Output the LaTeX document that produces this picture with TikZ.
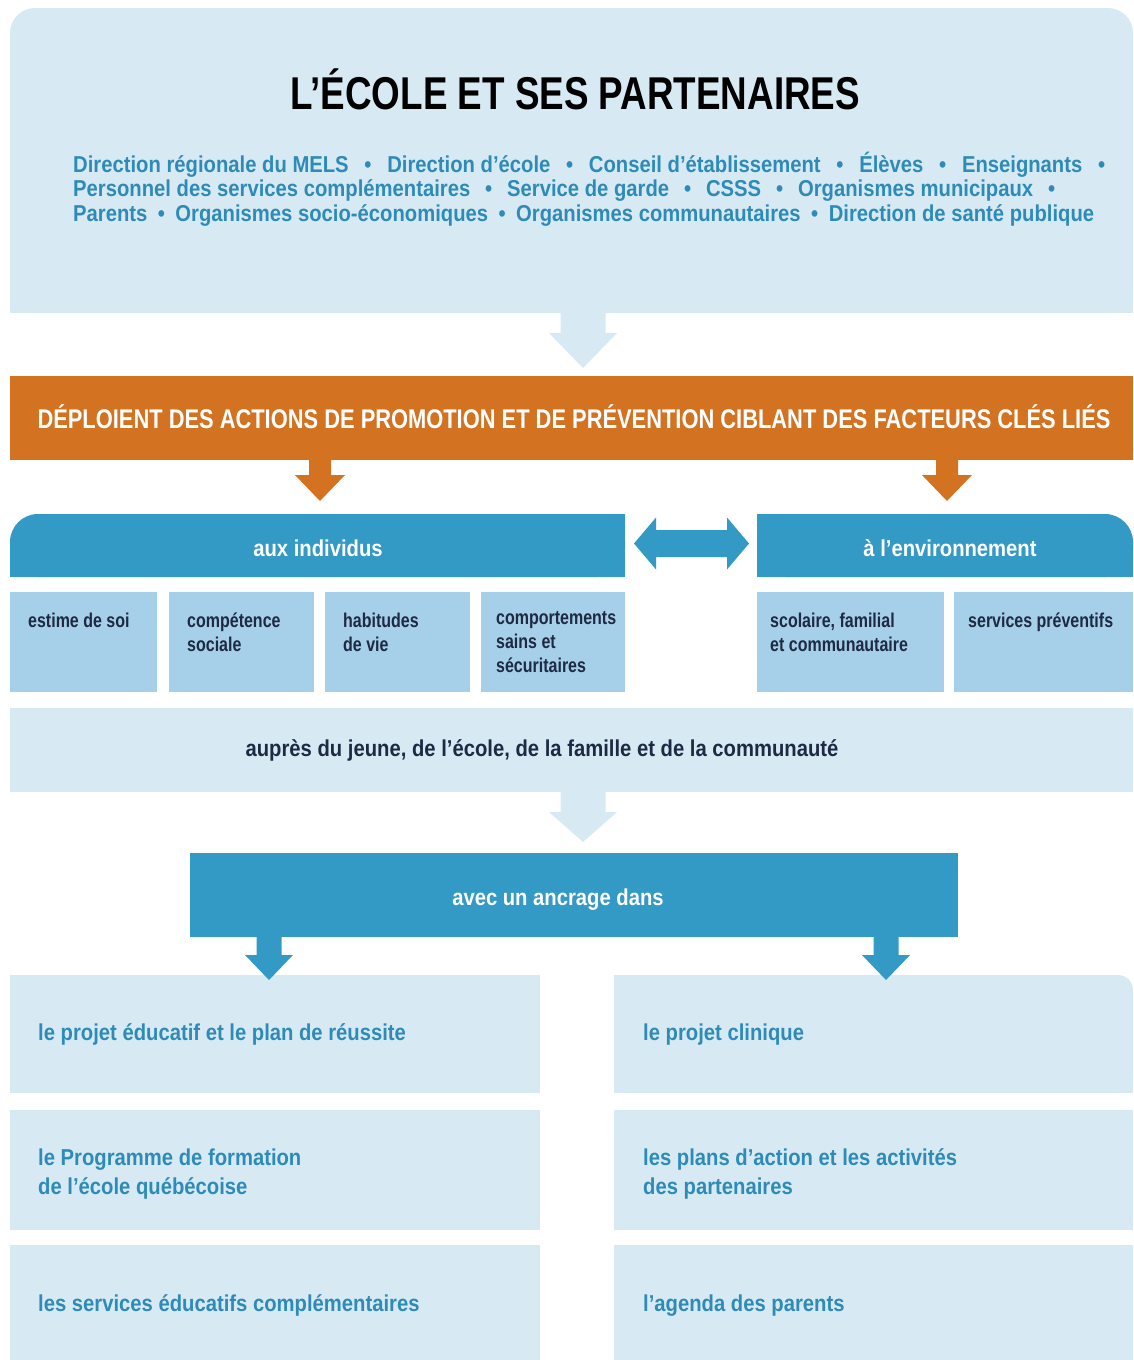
\documentclass[tikz,border=0pt]{standalone}
\usepackage{fontspec}
\setmainfont{Liberation Sans}
\newfontfamily\cnd[FakeStretch=0.88]{Liberation Sans}
\newfontfamily\cndn[FakeStretch=0.8]{Liberation Sans}
\newfontfamily\cndb[FakeStretch=0.81]{Liberation Sans}
\usetikzlibrary{calc}

\definecolor{pale}{HTML}{D7EAF4}
\definecolor{tile}{HTML}{A6D0E9}
\definecolor{hdrblue}{HTML}{3399C5}
\definecolor{orng}{HTML}{D37220}
\definecolor{navy}{HTML}{1E2A44}
\definecolor{txtblue}{HTML}{2E8BB7}

% vertical block arrow: colour, start point, target point, shaft half width,
% head half width, head length, gap between tip and target
\newcommand\vblockarrow[7]{%
  \fill[#1] let \p1=(#2), \p2=(#3) in
    (\x1-#4pt,\y1) -- (\x1-#4pt,\y2+#7pt+#6pt) -- (\x1-#5pt,\y2+#7pt+#6pt)
    -- (\x1,\y2+#7pt) -- (\x1+#5pt,\y2+#7pt+#6pt) -- (\x1+#4pt,\y2+#7pt+#6pt)
    -- (\x1+#4pt,\y1) -- cycle;}

\begin{document}
\begin{tikzpicture}[x=1pt,y=-1pt,
  box/.style={anchor=north west, inner sep=0pt, outer sep=0pt, draw=none},
  palebox/.style={box, fill=pale},
  tilebox/.style={box, fill=tile, minimum height=100pt},
  hdrbox/.style={box, fill=hdrblue},
  titletxt/.style={text=black, inner sep=0pt, font=\cndn\bfseries\fontsize{46}{50}\selectfont},
  partnertxt/.style={anchor=west, inner sep=0pt, text=txtblue, font=\cnd\bfseries\fontsize{23}{26}\selectfont},
  bandtxt/.style={text=white, inner sep=0pt, font=\cndb\bfseries\fontsize{27}{30}\selectfont},
  headtxt/.style={text=white, inner sep=0pt, font=\cnd\bfseries\fontsize{23}{26}\selectfont},
  tiletxt/.style={anchor=north west, inner sep=0pt, align=left, text=navy, font=\cndn\bfseries\fontsize{20}{24}\selectfont},
  navytxt/.style={text=navy, inner sep=0pt, font=\cnd\bfseries\fontsize{23}{26}\selectfont},
  itemtxt/.style={anchor=west, inner sep=0pt, align=left, text=txtblue, font=\cnd\bfseries\fontsize{23}{29}\selectfont}]

\useasboundingbox (0,0) rectangle (1133,1360);
\fill[white] (0,0) rectangle (1133,1360);

% ---- school and partners
\node[palebox, rounded corners=25pt, minimum width=1123pt, minimum height=305pt] (school) at (10,8) {};
\fill[pale] (school.south west) rectangle ++(30,-30);
\fill[pale] (school.south east) rectangle ++(-30,-30);

% ---- orange band
\node[box, fill=orng, minimum width=1123pt, minimum height=84pt] (band) at (10,376) {};

% ---- target headers
\node[hdrbox, rounded corners=28pt, minimum width=615pt, minimum height=63pt] (indiv) at (10,514) {};
\fill[hdrblue] (indiv.north east) rectangle ++(-30,30);
\fill[hdrblue] (indiv.south west) rectangle ++(30,-30);
\fill[hdrblue] (indiv.south east) rectangle ++(-30,-30);
\node[hdrbox, rounded corners=28pt, minimum width=376pt, minimum height=63pt] (env) at (757,514) {};
\fill[hdrblue] (env.north west) rectangle ++(30,30);
\fill[hdrblue] (env.south west) rectangle ++(30,-30);
\fill[hdrblue] (env.south east) rectangle ++(-30,-30);

% ---- factor tiles
\node[tilebox, minimum width=147pt] (t1) at (10,592) {};
\node[tilebox, minimum width=145pt] (t2) at (169,592) {};
\node[tilebox, minimum width=145pt] (t3) at (325,592) {};
\node[tilebox, minimum width=144pt] (t4) at (481,592) {};
\node[tilebox, minimum width=187pt] (t5) at (757,592) {};
\node[tilebox, minimum width=179pt] (t6) at (954,592) {};

% ---- audience band and anchoring box
\node[palebox, minimum width=1123pt, minimum height=84pt] (aupres) at (10,708) {};
\node[hdrbox, minimum width=768pt, minimum height=84pt] (ancrage) at (190,853) {};

% ---- anchoring items
\node[palebox, minimum width=530pt, minimum height=118pt] (l1) at (10,975) {};
\node[palebox, minimum width=530pt, minimum height=120pt] (l2) at (10,1110) {};
\node[palebox, minimum width=530pt, minimum height=115pt] (l3) at (10,1245) {};
\node[palebox, rounded corners=15pt, minimum width=519pt, minimum height=118pt] (r1) at (614,975) {};
\fill[pale] (r1.north west) rectangle ++(20,20);
\fill[pale] (r1.south west) rectangle ++(20,-20);
\fill[pale] (r1.south east) rectangle ++(-20,-20);
\node[palebox, minimum width=519pt, minimum height=120pt] (r2) at (614,1110) {};
\node[palebox, minimum width=519pt, minimum height=115pt] (r3) at (614,1245) {};

% ---- arrows
\coordinate (xa) at (583,0);
\coordinate (xl) at (320,0);
\coordinate (xr) at (947,0);
\coordinate (xbl) at (269,0);
\coordinate (xbr) at (886,0);
\vblockarrow{pale}{school.south -| xa}{band.north -| xa}{22.5}{34}{35}{8}
\vblockarrow{orng}{band.south -| xl}{indiv.north -| xl}{11}{25}{26}{13}
\vblockarrow{orng}{band.south -| xr}{env.north -| xr}{11}{25}{26}{13}
\vblockarrow{pale}{aupres.south -| xa}{ancrage.north -| xa}{22.5}{34}{30}{11}
\vblockarrow{hdrblue}{ancrage.south -| xbl}{l1.north -| xbl}{12.5}{24}{25}{-5}
\vblockarrow{hdrblue}{ancrage.south -| xbr}{r1.north -| xbr}{12.5}{24}{25}{-5}
\fill[hdrblue] let \p1=($(indiv.east)+(0,-2)$), \p2=($(env.west)+(0,-2)$) in
  (\x1+9pt,\y1) -- (\x1+31pt,\y1+26pt) -- (\x1+31pt,\y1+13.5pt)
  -- (\x2-30pt,\y1+13.5pt) -- (\x2-30pt,\y1+26pt) -- (\x2-8pt,\y1)
  -- (\x2-30pt,\y1-26pt) -- (\x2-30pt,\y1-13.5pt) -- (\x1+31pt,\y1-13.5pt)
  -- (\x1+31pt,\y1-26pt) -- cycle;

% ---- texts
\node[titletxt] (title) at (575,89) {L’ÉCOLE ET SES PARTENAIRES};
\node[partnertxt] (p1) at (73,165) {\hbox to 1032pt{Direction régionale du MELS\hfill•\hfill Direction d’école\hfill•\hfill Conseil d’établissement\hfill•\hfill Élèves\hfill•\hfill Enseignants\hfill•}};
\node[partnertxt] (p2) at (73,190) {\hbox to 982pt{Personnel des services complémentaires\hfill•\hfill Service de garde\hfill•\hfill CSSS\hfill•\hfill Organismes municipaux\hfill•}};
\node[partnertxt] (p3) at (73,215) {\hbox to 1021pt{Parents\hfill•\hfill Organismes socio-économiques\hfill•\hfill Organismes communautaires\hfill•\hfill Direction de santé publique}};

\node[bandtxt] (bandt) at (574,417) {DÉPLOIENT DES ACTIONS DE PROMOTION ET DE PRÉVENTION CIBLANT DES FACTEURS CLÉS LIÉS};
\node[headtxt] (indivt) at (318,548) {aux individus};
\node[headtxt] (envt) at (950,548) {à l’environnement};

\node[tiletxt] (t1t) at ($(t1.north west)+(18,21)$) {estime de soi};
\node[tiletxt] (t2t) at ($(t2.north west)+(18,21)$) {compétence\\sociale};
\node[tiletxt] (t3t) at ($(t3.north west)+(18,21)$) {habitudes\\de vie};
\node[tiletxt] (t4t) at ($(t4.north west)+(15,19)$) {comportements\\sains et\\sécuritaires};
\node[tiletxt] (t5t) at ($(t5.north west)+(13,21)$) {scolaire, familial\\et communautaire};
\node[tiletxt] (t6t) at ($(t6.north west)+(14,21)$) {services préventifs};

\node[navytxt] (aupt) at (542,750) {auprès du jeune, de l’école, de la famille et de la communauté};
\node[headtxt] (ancrt) at (558,900) {avec un ancrage dans};

\node[itemtxt] (l1t) at (38,1034.5) {le projet éducatif et le plan de réussite};
\node[itemtxt] (l2t) at (38,1174) {le Programme de formation\\de l’école québécoise};
\node[itemtxt] (l3t) at (38,1305.5) {les services éducatifs complémentaires};
\node[itemtxt] (r1t) at (643,1034.5) {le projet clinique};
\node[itemtxt] (r2t) at (643,1174) {les plans d’action et les activités\\des partenaires};
\node[itemtxt] (r3t) at (643,1305.5) {l’agenda des parents};
\end{tikzpicture}
\end{document}
